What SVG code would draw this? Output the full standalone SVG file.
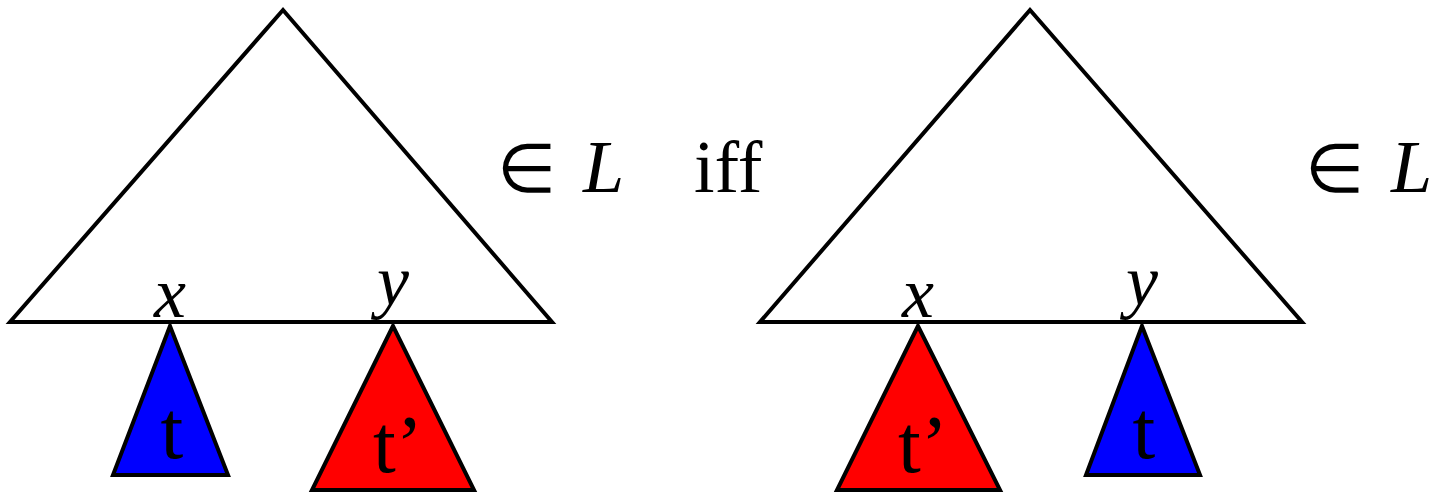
<svg xmlns="http://www.w3.org/2000/svg" width="1450" height="493" viewBox="0 0 1450 493">
<style>
.tri{fill:none;stroke:#000;stroke-width:4;stroke-linejoin:miter}
.blue{fill:#0000ff;stroke:#000;stroke-width:4}
.red{fill:#ff0000;stroke:#000;stroke-width:4}
.lab{font-family:"Liberation Serif",serif;font-style:italic;font-size:72px;text-anchor:middle;fill:#000}
.tt{font-family:"Liberation Serif",serif;font-size:82px;text-anchor:middle;fill:#000}
.m{font-family:"Liberation Serif",serif;font-size:74px;fill:#000}
.el{font-family:"DejaVu Sans",sans-serif;font-size:68px;font-weight:200;fill:#000}
.mi{font-family:"Liberation Serif",serif;font-size:74px;font-style:italic;fill:#000}
</style>
<rect width="1450" height="493" fill="#fff"/>
<g id="left-tree">
<polygon class="tri" points="283,10 10,322 552,322"/>
</g>
<g id="left-t">
<polygon class="blue" points="170,326 113,475 228,475"/>
<text class="tt" x="172" y="458">t</text>
</g>
<g id="left-tprime">
<polygon class="red" points="393,326 312,490 474,490"/>
<text class="tt" x="398" y="472">t’</text>
</g>
<g id="left-labels">
<text class="lab" x="170" y="317">x</text>
<text class="lab" x="393" y="305">y</text>
</g>
<g id="left-inL">
<text class="el" x="497" y="192">∈</text>
<text class="mi" x="583" y="192">L</text>
</g>
<g id="iff">
<text class="m" x="694" y="192">iff</text>
</g>
<g id="right-tree">
<polygon class="tri" points="1030,10 760,322 1302,322"/>
</g>
<g id="right-tprime">
<polygon class="red" points="918,326 837,490 1000,490"/>
<text class="tt" x="923" y="472">t’</text>
</g>
<g id="right-t">
<polygon class="blue" points="1142,326 1086,475 1200,475"/>
<text class="tt" x="1144" y="458">t</text>
</g>
<g id="right-labels">
<text class="lab" x="918" y="317">x</text>
<text class="lab" x="1142" y="305">y</text>
</g>
<g id="right-inL">
<text class="el" x="1305" y="192">∈</text>
<text class="mi" x="1391" y="192">L</text>
</g>
<g id="connectors"></g>
</svg>
